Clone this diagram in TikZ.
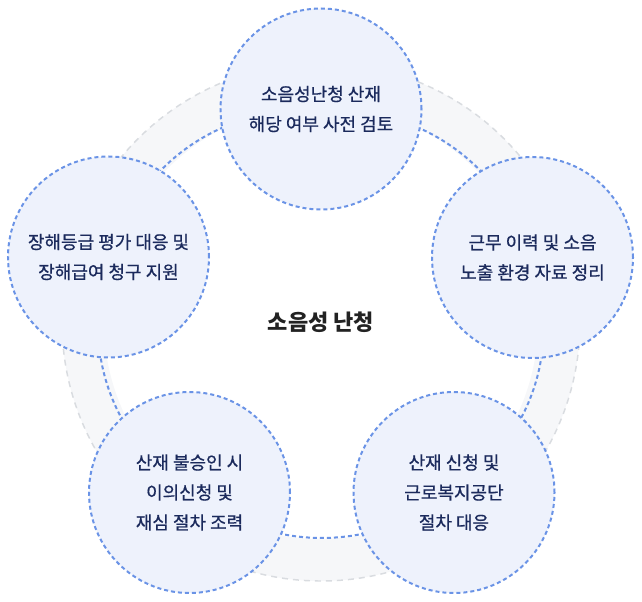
\documentclass[tikz,border=0pt]{standalone}
\usepackage{fontspec}
\setmainfont{Noto Sans CJK KR}
\newfontfamily\stepfont[FakeBold=0.6]{Noto Sans CJK KR}
\usetikzlibrary{backgrounds}
\definecolor{stepfill}{HTML}{EEF2FC}
\definecolor{stepline}{HTML}{6A93E6}
\definecolor{steptext}{HTML}{1B2A5C}
\definecolor{bandfill}{HTML}{F6F7F9}
\definecolor{bandline}{HTML}{D9DCE0}
\definecolor{hubtext}{HTML}{222222}

\begin{document}
\begin{tikzpicture} [x=0.75pt,y=-0.75pt, stepnode/.style= {shape=circle,minimum size=150.75pt,inner sep=0,draw=stepline,line width=1.5pt,dash pattern=on 3pt off 2.25pt,fill=stepfill,text=steptext,align=center,font=\stepfont\fontsize{13.5}{22.5}\selectfont}, link/.style= {draw=stepline,line width=1.5pt,dash pattern=on 3pt off 2.25pt}]
\useasboundingbox (0,0) rectangle (642,602);

\node[text=hubtext, font=\fontsize{16.5}{18}\selectfont\bfseries] (hub) at (321,322) {소음성 난청};

\node[stepnode] (s1) at (321,109) {소음성난청 산재\\해당 여부 사전 검토};
\node[stepnode] (s2) at (532.5,257.5) {근무 이력 및 소음\\노출 환경 자료 정리};
\node[stepnode] (s3) at (454,492.5) {산재 신청 및\\근로복지공단\\절차 대응};
\node[stepnode] (s4) at (189.5,492.5) {산재 불승인 시\\이의신청 및\\재심 절차 조력};
\node[stepnode] (s5) at (108.5,257) {장해등급 평가 대응 및\\장해급여 청구 지원};

\begin{pgfonlayer}{background}
% ring behind the steps
\fill[bandfill, even odd rule] (hub.center) circle[radius=259] (hub.center) circle[radius=217];
\draw[bandline, line width=1.1pt, dash pattern=on 4.5pt off 3.75pt] (hub.center) circle[radius=259];
\foreach \a/\b in {s1/s2,s2/s3,s3/s4,s4/s5,s5/s1}{%
  \draw[link] (\a.center) to[bend left=36] (\b.center);}
\end{pgfonlayer}
\end{tikzpicture}
\end{document}
